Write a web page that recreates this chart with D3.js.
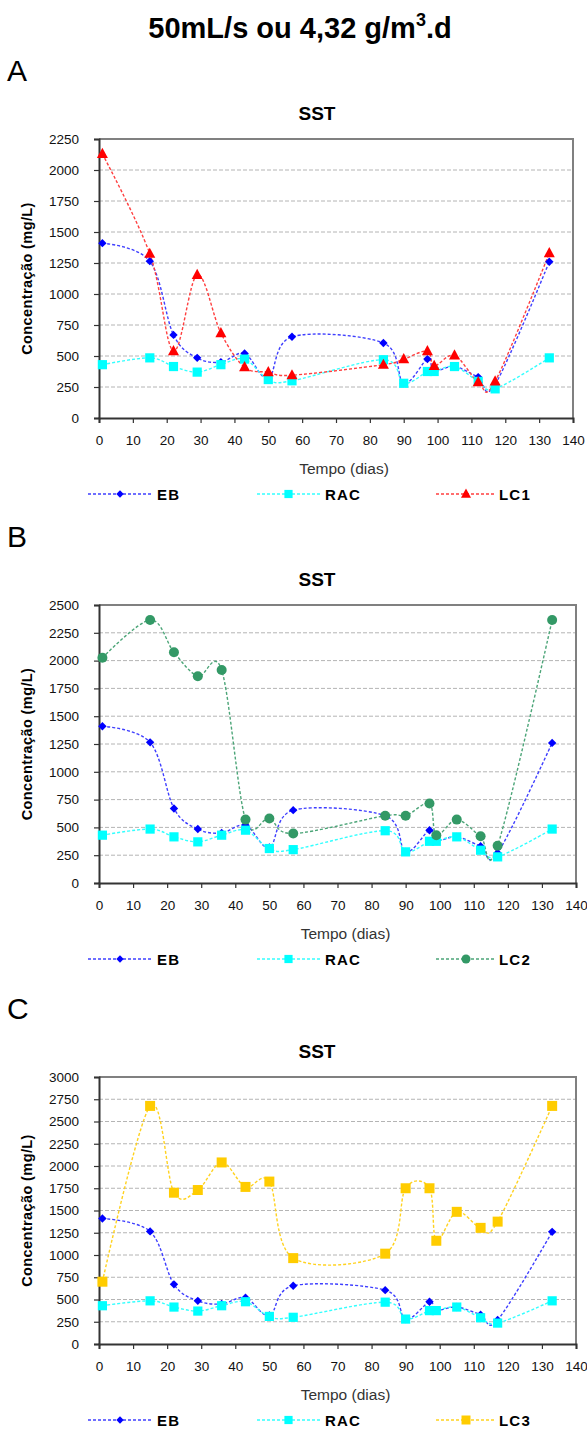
<!DOCTYPE html>
<html>
<head>
<meta charset="utf-8">
<script src="https://cdn.jsdelivr.net/npm/d3@7"></script>
<style>
  body { margin: 0; background: #fff; }
  svg { display: block; font-family: "Liberation Sans", Arial, sans-serif; }
</style>
</head>
<body>
<svg id="chart"></svg>
<script>
// DATA
const days      = [1, 15, 22, 29, 36, 43, 50, 57, 84, 90, 97, 99, 105, 112, 117, 133];
const ebValues  = [1410, 1265, 670, 485, 450, 520, 320, 655, 605, 280, 475, 380, 415, 330, 270, 1260];
const racValues = [430, 485, 415, 370, 430, 475, 310, 300, 470, 280, 375, 375, 415, 295, 235, 485];
const lc1Values = [2130, 1325, 540, 1155, 685, 410, 370, 345, 430, 475, 540, 420, 505, 290, 295, 1330];
const lc2Values = [2025, 2365, 2075, 1860, 1915, 570, 580, 445, 605, 605, 715, 430, 570, 420, 335, 2365];
const lc3Values = [700, 2675, 1700, 1730, 2040, 1765, 1825, 965, 1015, 1750, 1750, 1160, 1485, 1305, 1375, 2675];

const xTickValues = [0, 10, 20, 30, 40, 50, 60, 70, 80, 90, 100, 110, 120, 130, 140];
const yTicksA = [0, 250, 500, 750, 1000, 1250, 1500, 1750, 2000, 2250];
const yTicksB = [0, 250, 500, 750, 1000, 1250, 1500, 1750, 2000, 2250, 2500];
const yTicksC = [0, 250, 500, 750, 1000, 1250, 1500, 1750, 2000, 2250, 2500, 2750, 3000];

const titleText = "50mL/s ou 4,32 g/m";
const chartTitle = "SST";
const xTitle = "Tempo (dias)";
const yTitle = "Concentração (mg/L)";

// SET VARIABLES
const width = 587, height = 1429;
const svg = d3.select('#chart').attr('width', width).attr('height', height);

const styles = {
  EB:  {color: '#0000ff', line: '#3f3fff', marker: 'diamond', size: 4.2},
  RAC: {color: '#00ffff', line: '#33ffff', marker: 'square', size: 4.6},
  LC1: {color: '#ff0000', line: '#ff3f3f', marker: 'triangle', size: 5.5},
  LC2: {color: '#339966', line: '#4ca578', marker: 'circle', size: 5},
  LC3: {color: '#ffcc00', line: '#ffd21f', marker: 'square', size: 5}
};

const panels = [
  {letter: 'A', top: 139, bottom: 418, left: 99, right: 573, yMax: 2250, yTicks: yTicksA, extra: 'LC1', values: lc1Values},
  {letter: 'B', top: 605, bottom: 883, left: 99, right: 576, yMax: 2500, yTicks: yTicksB, extra: 'LC2', values: lc2Values},
  {letter: 'C', top: 1077, bottom: 1344, left: 99, right: 576, yMax: 3000, yTicks: yTicksC, extra: 'LC3', values: lc3Values}
];

// main title
const t = svg.append('text')
  .attr('x', 300).attr('y', 38)
  .attr('text-anchor', 'middle')
  .attr('font-size', 29).attr('font-weight', 'bold')
  .text(titleText);
t.append('tspan').attr('font-size', 18).attr('dy', -12).text('3');
t.append('tspan').attr('dy', 12).text('.d');

// SET FUNCTIONS
function markerPath(type, r) {
  if (type === 'diamond') return `M0,${-r}L${r},0L0,${r}L${-r},0Z`;
  if (type === 'square') return `M${-r},${-r}H${r}V${r}H${-r}Z`;
  if (type === 'triangle') return `M0,${-r * 1.1}L${r},${r * 0.75}L${-r},${r * 0.75}Z`;
  return d3.symbol(d3.symbolCircle, Math.PI * r * r)();
}

function drawPanel(p) {
  const x = d3.scaleLinear().domain([0, 140]).range([p.left, p.right]);
  const y = d3.scaleLinear().domain([0, p.yMax]).range([p.bottom, p.top]);
  const g = svg.append('g');
  const yMid = (p.top + p.bottom) / 2;
  const xMid = (p.left + p.right) / 2;

  // panel letter
  g.append('text')
    .attr('x', 7).attr('y', p.top - 58)
    .attr('font-size', 30)
    .text(p.letter);

  // chart title
  g.append('text')
    .attr('x', 317).attr('y', p.top - 19)
    .attr('text-anchor', 'middle')
    .attr('font-size', 19).attr('font-weight', 'bold')
    .text(chartTitle);

  // grid lines
  g.selectAll('.grid')
    .data(p.yTicks.filter(d => d > 0 && d < p.yMax))
    .enter().append('line')
      .attr('x1', p.left).attr('x2', p.right)
      .attr('y1', d => y(d)).attr('y2', d => y(d))
      .attr('stroke', '#b4b4b4').attr('stroke-width', 1)
      .attr('stroke-dasharray', '4,2');

  // plot frame (top/right)
  g.append('path')
    .attr('d', `M${p.left},${p.top}H${p.right}V${p.bottom}`)
    .attr('fill', 'none').attr('stroke', '#808080').attr('stroke-width', 2);

  // axes
  const yAxis = g.append('g')
    .attr('transform', `translate(${p.left},0)`)
    .call(d3.axisLeft(y).tickValues(p.yTicks).tickFormat(d3.format('d')).tickSize(5).tickPadding(15));
  const xAxis = g.append('g')
    .attr('transform', `translate(0,${p.bottom})`)
    .call(d3.axisBottom(x).tickValues(xTickValues).tickFormat(d3.format('d')).tickSize(5).tickPadding(12));
  [yAxis, xAxis].forEach(a => {
    a.select('.domain').attr('stroke', '#333').attr('stroke-width', 2);
    a.selectAll('.tick line').attr('stroke', '#333').attr('stroke-width', 1.2);
    a.selectAll('.tick text').attr('font-size', 13.5).attr('fill', '#111')
      .attr('font-family', '"Liberation Sans", Arial, sans-serif');
  });

  // axis titles
  g.append('text')
    .attr('transform', `translate(32,${yMid}) rotate(-90)`)
    .attr('text-anchor', 'middle')
    .attr('font-size', 14.5).attr('font-weight', 'bold')
    .attr('letter-spacing', 0.4)
    .text(yTitle);
  g.append('text')
    .attr('x', xMid + 8).attr('y', p.bottom + 56)
    .attr('text-anchor', 'middle')
    .attr('font-size', 15.5).attr('font-weight', 'normal').attr('fill', '#333')
    .text(xTitle);

  // series
  const series = [
    {name: 'EB', values: ebValues},
    {name: 'RAC', values: racValues},
    {name: p.extra, values: p.values}
  ];
  const line = d3.line()
    .x(d => x(d[0])).y(d => y(d[1]))
    .curve(d3.curveCardinal.tension(0));

  series.forEach(s => {
    const st = styles[s.name];
    const pts = days.map((d, i) => [d, s.values[i]]);
    g.append('path')
      .datum(pts)
      .attr('d', line)
      .attr('fill', 'none')
      .attr('stroke', st.line).attr('stroke-width', 1.4)
      .attr('stroke-dasharray', '3,2');
  });
  series.forEach(s => {
    const st = styles[s.name];
    const pts = days.map((d, i) => [d, s.values[i]]);
    g.selectAll(null)
      .data(pts)
      .enter().append('path')
        .attr('transform', d => `translate(${x(d[0])},${y(d[1])})`)
        .attr('d', markerPath(st.marker, st.size))
        .attr('fill', st.color);
  });

  // legend
  const legY = p.bottom + 76;
  const legItems = [
    {name: 'EB', x0: 88, x1: 152, tx: 157},
    {name: 'RAC', x0: 257, x1: 320, tx: 325},
    {name: p.extra, x0: 436, x1: 496, tx: 499}
  ];
  legItems.forEach(it => {
    const st = styles[it.name];
    g.append('line')
      .attr('x1', it.x0).attr('x2', it.x1)
      .attr('y1', legY).attr('y2', legY)
      .attr('stroke', st.line).attr('stroke-width', 1.4)
      .attr('stroke-dasharray', '3,2');
    g.append('path')
      .attr('transform', `translate(${(it.x0 + it.x1) / 2},${legY})`)
      .attr('d', markerPath(st.marker, st.size - 0.5))
      .attr('fill', st.color);
    g.append('text')
      .attr('x', it.tx).attr('y', legY + 6)
      .attr('font-size', 15).attr('font-weight', 'bold')
      .attr('letter-spacing', 1.2)
      .text(it.name);
  });
}

panels.forEach(drawPanel);
</script>
</body>
</html>
